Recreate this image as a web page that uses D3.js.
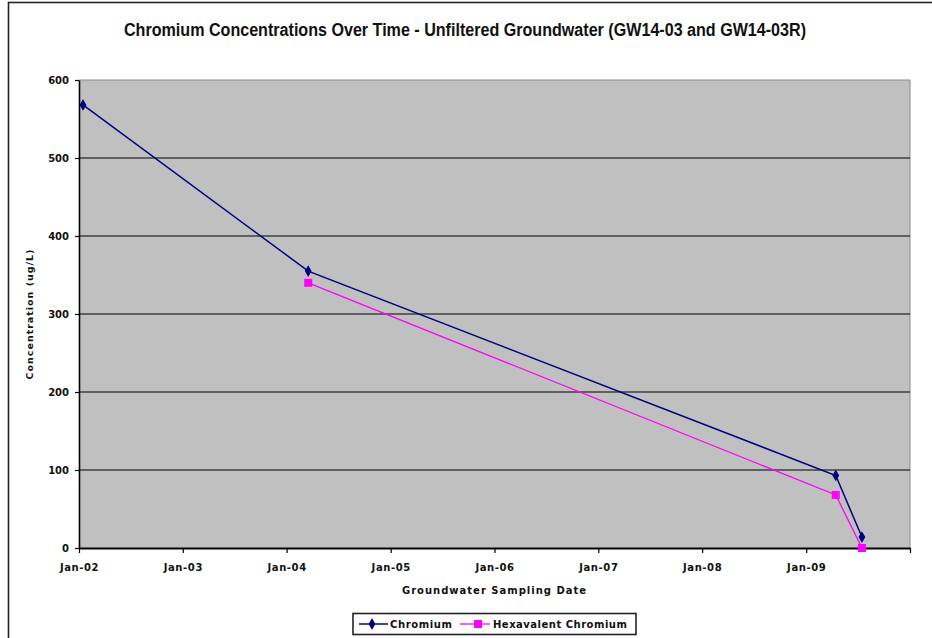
<!DOCTYPE html>
<html>
<head>
<meta charset="utf-8">
<script src="https://cdn.jsdelivr.net/npm/d3@7"></script>
<style>
  html, body { margin: 0; padding: 0; background: #fff; }
  svg { display: block; font-family: "DejaVu Sans", Verdana, sans-serif; }
</style>
</head>
<body>
<svg id="chart" width="932" height="638"></svg>
<script>
// Sampling results, GW14-03 / GW14-03R (ug/L)
const chromiumDates = ["2002-01-15", "2004-03-17", "2009-04-15", "2009-07-16"];
const chromiumValues = [568, 355, 93, 14];
const hexDates = ["2004-03-17", "2009-04-15", "2009-07-16"];
const hexValues = [340, 68, 0];
const yTicks = [0, 100, 200, 300, 400, 500, 600];
const xTickYears = [2002, 2003, 2004, 2005, 2006, 2007, 2008, 2009, 2010];

const parse = d3.utcParse("%Y-%m-%d");
const chromium = chromiumDates.map((d, i) => ({ date: parse(d), value: chromiumValues[i] }));
const hexavalent = hexDates.map((d, i) => ({ date: parse(d), value: hexValues[i] }));

const svg = d3.select("#chart");
const plot = { left: 79, right: 910, top: 80, bottom: 548 };
const labelFont = "DejaVu Sans, Verdana, sans-serif";

// Outer chart frame
svg.append("rect")
  .attr("x", 8.5).attr("y", 2.5)
  .attr("width", 940).attr("height", 660)
  .attr("fill", "none").attr("stroke", "#222").attr("stroke-width", 1.6);

const x = d3.scaleUtc()
  .domain([Date.UTC(2002, 0, 1), Date.UTC(2010, 0, 1)])
  .range([plot.left, plot.right]);
const y = d3.scaleLinear().domain([0, 600]).range([plot.bottom, plot.top]);

// Plot background
svg.append("rect")
  .attr("x", plot.left).attr("y", plot.top)
  .attr("width", plot.right - plot.left).attr("height", plot.bottom - plot.top)
  .attr("fill", "#c0c0c0");
svg.append("line")
  .attr("x1", plot.right).attr("x2", plot.right)
  .attr("y1", plot.top).attr("y2", plot.bottom)
  .attr("stroke", "#8a8a8a").attr("stroke-width", 1);
svg.append("line")
  .attr("x1", plot.left).attr("x2", plot.right)
  .attr("y1", plot.top).attr("y2", plot.top)
  .attr("stroke", "#8a8a8a").attr("stroke-width", 1);

// Horizontal gridlines
svg.append("g")
  .selectAll("line")
  .data(yTicks.filter(t => t > 0 && t < 600))
  .join("line")
  .attr("x1", plot.left).attr("x2", plot.right)
  .attr("y1", d => y(d)).attr("y2", d => y(d))
  .attr("stroke", "#000").attr("stroke-width", 1.2);

// Y axis
const yAxis = svg.append("g")
  .attr("transform", `translate(${plot.left},0)`)
  .call(d3.axisLeft(y).tickValues(yTicks).tickSize(4).tickSizeOuter(0).tickPadding(6));
yAxis.select(".domain").attr("stroke", "#000").attr("stroke-width", 1.6);
yAxis.selectAll(".tick line").attr("stroke", "#000").attr("stroke-width", 1.2);
yAxis.selectAll(".tick text")
  .attr("font-family", labelFont)
  .attr("font-size", 10).attr("font-weight", "bold").attr("fill", "#111");

// X axis
const xAxis = svg.append("g")
  .attr("transform", `translate(0,${plot.bottom})`)
  .call(d3.axisBottom(x)
    .tickValues(xTickYears.map(yr => new Date(Date.UTC(yr, 0, 1))))
    .tickFormat((d, i) => xTickYears[i] === 2010 ? "" : d3.utcFormat("%b-%y")(d))
    .tickSize(5).tickSizeOuter(0).tickPadding(11));
xAxis.select(".domain").attr("stroke", "#000").attr("stroke-width", 1.8);
xAxis.selectAll(".tick line").attr("stroke", "#000").attr("stroke-width", 1.2);
xAxis.selectAll(".tick text")
  .attr("font-family", labelFont)
  .attr("font-size", 10).attr("font-weight", "bold").attr("fill", "#111")
  .attr("letter-spacing", 0.6);

// Series lines
const line = d3.line().x(d => x(d.date)).y(d => y(d.value));
svg.append("path").datum(hexavalent)
  .attr("d", line).attr("fill", "none")
  .attr("stroke", "#ff00ff").attr("stroke-width", 1.3);
svg.append("path").datum(chromium)
  .attr("d", line).attr("fill", "none")
  .attr("stroke", "#000080").attr("stroke-width", 1.5);

// Markers
const diamond = d3.symbol().type(d3.symbolDiamond).size(40);
svg.append("g").selectAll("rect")
  .data(hexavalent).join("rect")
  .attr("x", d => x(d.date) - 4).attr("y", d => y(d.value) - 4)
  .attr("width", 8).attr("height", 8)
  .attr("fill", "#ff00ff");
svg.append("g").selectAll("path")
  .data(chromium).join("path")
  .attr("d", diamond)
  .attr("transform", d => `translate(${x(d.date)},${y(d.value)})`)
  .attr("fill", "#000080");

// Title
svg.append("text")
  .attr("x", 465).attr("y", 36)
  .attr("text-anchor", "middle")
  .attr("font-family", "Liberation Sans Narrow, Arial Narrow, Liberation Sans, sans-serif")
  .attr("font-size", 18).attr("font-weight", "bold")
  .attr("fill", "#111")
  .attr("textLength", 682).attr("lengthAdjust", "spacingAndGlyphs")
  .text("Chromium Concentrations Over Time - Unfiltered Groundwater (GW14-03 and GW14-03R)");

// Axis titles
svg.append("text")
  .attr("x", (plot.left + plot.right) / 2).attr("y", 594)
  .attr("text-anchor", "middle")
  .attr("font-family", labelFont)
  .attr("font-size", 10).attr("font-weight", "bold").attr("fill", "#111")
  .attr("letter-spacing", 1)
  .text("Groundwater Sampling Date");
svg.append("text")
  .attr("transform", `translate(32.5,${(plot.top + plot.bottom) / 2}) rotate(-90)`)
  .attr("text-anchor", "middle")
  .attr("font-family", labelFont)
  .attr("font-size", 9.5).attr("font-weight", "bold").attr("fill", "#111")
  .attr("letter-spacing", 1)
  .text("Concentration (ug/L)");

// Legend
const legend = svg.append("g").attr("font-family", labelFont);
legend.append("rect")
  .attr("x", 353).attr("y", 613.5).attr("width", 283).attr("height", 21)
  .attr("fill", "#fff").attr("stroke", "#222").attr("stroke-width", 1.6);
const ly = 624;
legend.append("line").attr("x1", 359).attr("x2", 388).attr("y1", ly).attr("y2", ly)
  .attr("stroke", "#000080").attr("stroke-width", 1.5);
legend.append("path").attr("d", diamond).attr("transform", `translate(372,${ly})`).attr("fill", "#000080");
legend.append("text").attr("x", 390).attr("y", ly + 4)
  .attr("font-size", 10).attr("font-weight", "bold").attr("fill", "#111")
  .attr("letter-spacing", 0.6).text("Chromium");
legend.append("line").attr("x1", 460).attr("x2", 490).attr("y1", ly).attr("y2", ly)
  .attr("stroke", "#ff00ff").attr("stroke-width", 1.3);
legend.append("rect").attr("x", 474).attr("y", ly - 4).attr("width", 8).attr("height", 8).attr("fill", "#ff00ff");
legend.append("text").attr("x", 493).attr("y", ly + 4)
  .attr("font-size", 10).attr("font-weight", "bold").attr("fill", "#111")
  .attr("letter-spacing", 0.5).text("Hexavalent Chromium");
</script>
</body>
</html>
